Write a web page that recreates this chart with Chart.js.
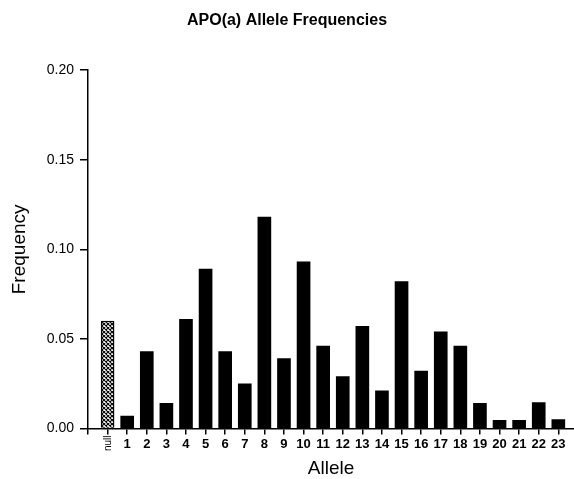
<!DOCTYPE html>
<html>
<head>
<meta charset="utf-8">
<script src="https://cdn.jsdelivr.net/npm/chart.js@4"></script>
<style>
html,body{margin:0;padding:0;background:#fff;}
canvas{display:block;}
</style>
</head>
<body>
<canvas id="c" width="574" height="479"></canvas>
<script>
const alleles = ['null','1','2','3','4','5','6','7','8','9','10','11','12','13','14','15','16','17','18','19','20','21','22','23'];
const frequency = [0.060, 0.007, 0.043, 0.014, 0.061, 0.089, 0.043, 0.025, 0.118, 0.039, 0.093, 0.046, 0.029, 0.057, 0.021, 0.082, 0.032, 0.054, 0.046, 0.014, 0.0045, 0.0045, 0.0145, 0.005];
const yTicks = [0, 0.05, 0.10, 0.15, 0.20];
const chartTitle = 'APO(a) Allele Frequencies';
const xTitle = 'Allele';
const yTitle = 'Frequency';

const FONT = "'Liberation Sans', Arial, Helvetica, sans-serif";

// crosshatch pattern for the "null" bar
const pc = document.createElement('canvas');
pc.width = 4; pc.height = 4;
const px = pc.getContext('2d');
px.fillStyle = '#fff'; px.fillRect(0,0,4,4);
px.strokeStyle = '#000'; px.lineWidth = 1.1;
px.beginPath();
px.moveTo(0,0); px.lineTo(4,4);
px.moveTo(4,0); px.lineTo(0,4);
px.stroke();
const hatch = document.getElementById('c').getContext('2d').createPattern(pc, 'repeat');

const points = frequency.map((v, i) => ({x: i, y: v}));
const bg = alleles.map((a, i) => i === 0 ? hatch : '#000');
const bw = alleles.map((a, i) => i === 0 ? 1.5 : 0);

const nullLabel = {
  id: 'nullLabel',
  afterDraw(chart) {
    const xs = chart.scales.x;
    const ctx = chart.ctx;
    const x = xs.getPixelForValue(0);
    ctx.save();
    ctx.translate(x + 0.5, 451);
    ctx.rotate(-Math.PI / 2);
    ctx.font = '10px ' + FONT;
    ctx.fillStyle = '#000';
    ctx.textAlign = 'left';
    ctx.textBaseline = 'middle';
    ctx.fillText(alleles[0], 0, 0);
    ctx.restore();
  }
};

new Chart(document.getElementById('c'), {
  type: 'bar',
  data: {
    datasets: [{
      data: points,
      backgroundColor: bg,
      borderColor: '#000',
      borderWidth: bw,
      borderSkipped: 'start',
      barThickness: 13
    }]
  },
  plugins: [nullLabel],
  options: {
    responsive: false,
    animation: false,
    devicePixelRatio: 1,
    layout: { padding: { left: 0, right: 0, top: 0, bottom: 0 } },
    plugins: {
      legend: { display: false },
      tooltip: { enabled: false },
      title: {
        display: true,
        text: chartTitle,
        color: '#000',
        font: { family: FONT, size: 16, weight: 'bold' },
        padding: { top: 11, bottom: 40 }
      }
    },
    scales: {
      x: {
        type: 'linear',
        offset: false,
        min: -1,
        max: 23.8,
        afterBuildTicks(scale) {
          const t = [];
          for (let i = -1; i < alleles.length; i++) t.push({ value: i });
          scale.ticks = t;
        },
        ticks: {
          autoSkip: false,
          maxRotation: 0,
          color: '#000',
          padding: 2,
          font: { family: FONT, size: 13, weight: 'bold' },
          callback: (v) => (v >= 1 && v < alleles.length) ? alleles[v] : ''
        },
        grid: {
          offset: false,
          drawOnChartArea: false,
          drawTicks: true,
          tickLength: 6,
          color: '#000',
          lineWidth: 1.5
        },
        border: { display: true, color: '#000', width: 1.5 },
        title: {
          display: true,
          text: xTitle,
          color: '#000',
          font: { family: FONT, size: 19, lineHeight: 1.1 },
          padding: { top: 4, bottom: 0 }
        }
      },
      y: {
        min: 0,
        max: 0.2,
        afterBuildTicks(scale) {
          scale.ticks = yTicks.map(v => ({ value: v }));
        },
        afterFit(scale) { scale.width = 88; },
        ticks: {
          color: '#000',
          padding: 6,
          font: { family: FONT, size: 14 },
          callback: (v) => Number(v).toFixed(2)
        },
        grid: {
          drawOnChartArea: false,
          drawTicks: true,
          tickLength: 8,
          color: '#000',
          lineWidth: 1.5
        },
        border: { display: true, color: '#000', width: 1.5 },
        title: {
          display: true,
          text: yTitle,
          color: '#000',
          font: { family: FONT, size: 19 },
          padding: { top: 8, bottom: 0 }
        }
      }
    }
  }
});
</script>
</body>
</html>
